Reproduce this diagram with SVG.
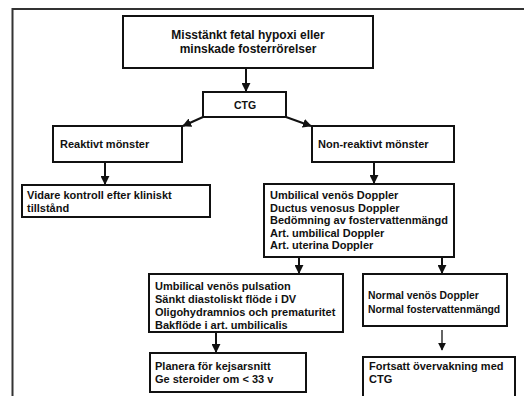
<svg xmlns="http://www.w3.org/2000/svg" width="524" height="396" viewBox="0 0 524 396">
<style>
.box{fill:#fff;stroke:#111;stroke-width:2}
.t{font-family:"Liberation Sans",Arial,sans-serif;font-size:11px;font-weight:bold;fill:#111}
.s{font-size:10.4px}
.c{text-anchor:middle}
.ln{stroke:#111;stroke-width:2;fill:none}
.thin{stroke:#111;stroke-width:1.3;fill:none}
</style>
<defs>
<marker id="ah" viewBox="0 0 10 10" refX="9" refY="5" markerWidth="4.5" markerHeight="4.5" orient="auto" markerUnits="strokeWidth">
<path d="M0,0 L10,5 L0,10 z" fill="#111"/>
</marker>
<marker id="ah2" viewBox="0 0 10 10" refX="9" refY="5" markerWidth="6" markerHeight="6" orient="auto" markerUnits="strokeWidth">
<path d="M0,0 L10,5 L0,10 z" fill="#111"/>
</marker>
</defs>
<rect width="524" height="396" fill="#fff"/>
<path d="M12.5,396 V9 H524" fill="none" stroke="#333" stroke-width="2"/>
<g id="connectors">
<line class="ln" x1="246" y1="68" x2="246" y2="91" marker-end="url(#ah)"/>
<line class="ln" x1="203" y1="117" x2="183" y2="126" marker-end="url(#ah)"/>
<line class="ln" x1="286" y1="117" x2="311" y2="126" marker-end="url(#ah)"/>
<line class="ln" x1="105" y1="162" x2="105" y2="184" marker-end="url(#ah)"/>
<line class="ln" x1="374" y1="162" x2="374" y2="183" marker-end="url(#ah)"/>
<line class="ln" x1="299" y1="257" x2="299" y2="273" marker-end="url(#ah)"/>
<line class="ln" x1="442" y1="257" x2="442" y2="273" marker-end="url(#ah)"/>
<line class="ln" x1="216" y1="332" x2="216" y2="352" marker-end="url(#ah)"/>
<line class="thin" x1="442" y1="330" x2="442" y2="350" marker-end="url(#ah2)"/>
</g>
<g id="n-start">
<rect class="box" x="123" y="16" width="250" height="52"/>
<text class="t c" x="248" y="39" style="font-size:12px">Misstänkt fetal hypoxi eller</text>
<text class="t c" x="248" y="53" style="font-size:12px">minskade fosterrörelser</text>
</g>
<g id="n-ctg">
<rect class="box" x="203" y="92" width="83" height="25"/>
<text class="t c" x="245" y="109" style="font-size:10.5px">CTG</text>
</g>
<g id="n-reaktivt">
<rect class="box" x="53" y="126" width="129" height="36"/>
<text class="t" x="60" y="148">Reaktivt mönster</text>
</g>
<g id="n-nonreaktivt">
<rect class="box" x="312" y="126" width="142" height="36"/>
<text class="t" x="318" y="148">Non-reaktivt mönster</text>
</g>
<g id="n-vidare">
<rect class="box" x="22" y="185" width="188" height="32"/>
<text class="t" x="27" y="199">Vidare kontroll efter kliniskt</text>
<text class="t" x="27" y="212">tillstånd</text>
</g>
<g id="n-doppler">
<rect class="box" x="264" y="184" width="190" height="73"/>
<text class="t" x="270" y="199">Umbilical venös Doppler</text>
<text class="t" x="270" y="212">Ductus venosus Doppler</text>
<text class="t" x="270" y="224">Bedömning av fostervattenmängd</text>
<text class="t" x="270" y="237">Art. umbilical Doppler</text>
<text class="t" x="270" y="249">Art. uterina Doppler</text>
</g>
<g id="n-patologisk">
<rect class="box" x="149" y="274" width="194" height="58"/>
<text class="t" x="155" y="290">Umbilical venös pulsation</text>
<text class="t" x="155" y="303">Sänkt diastoliskt flöde i DV</text>
<text class="t" x="155" y="316">Oligohydramnios och prematuritet</text>
<text class="t" x="155" y="329">Bakflöde i art. umbilicalis</text>
</g>
<g id="n-normal">
<rect class="box" x="363" y="274" width="144" height="52"/>
<text class="t s" x="368" y="299">Normal venös Doppler</text>
<text class="t s" x="368" y="313">Normal fostervattenmängd</text>
</g>
<g id="n-planera">
<rect class="box" x="150" y="353" width="156" height="39"/>
<text class="t" x="155" y="370">Planera för kejsarsnitt</text>
<text class="t" x="155" y="383">Ge steroider om &lt; 33 v</text>
</g>
<g id="n-fortsatt">
<rect class="box" x="363" y="357" width="152" height="45"/>
<text class="t" x="369" y="370">Fortsatt övervakning med</text>
<text class="t" x="369" y="383">CTG</text>
</g>
</svg>
